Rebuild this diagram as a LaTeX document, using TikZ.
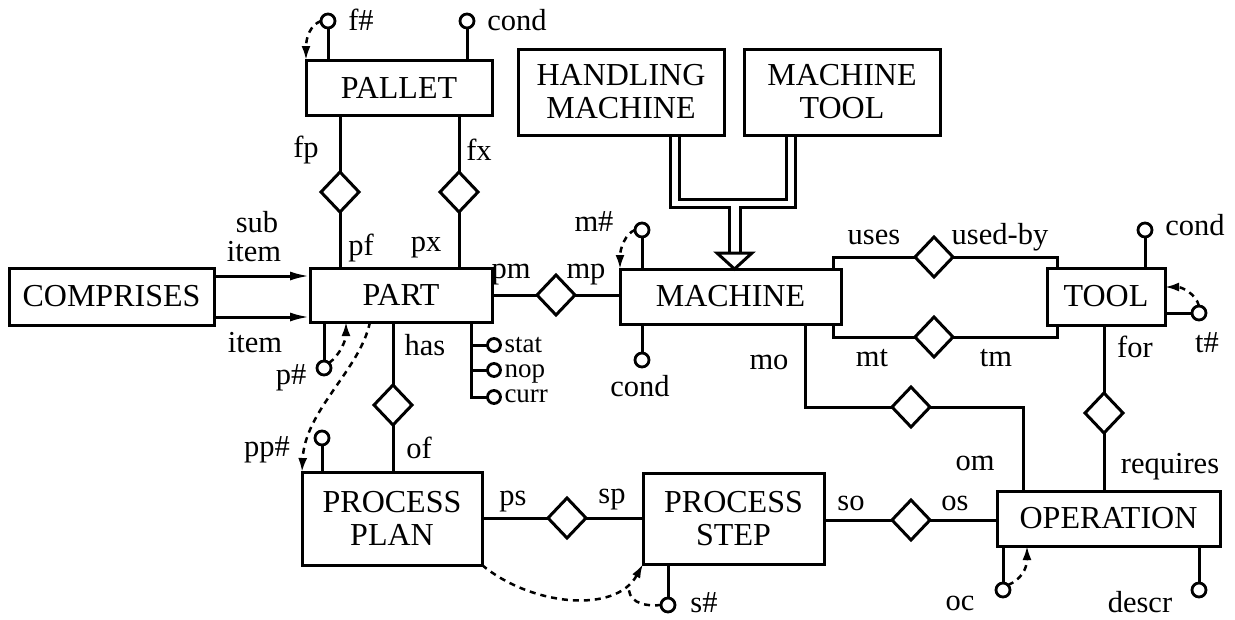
\documentclass[tikz,border=0pt]{standalone}
\usepackage{fontspec}
\setmainfont{Liberation Serif}
\usetikzlibrary{shapes.geometric,arrows.meta}
\begin{document}
\begin{tikzpicture}[x=1pt,y=-1pt, line width=3pt,
 ent/.style={draw, rectangle, inner sep=0pt, outer sep=0pt, align=center, font=\fontsize{32}{33}\selectfont},
 rel/.style={draw, diamond, minimum width=38pt, minimum height=40pt, inner sep=0pt, outer sep=0pt},
 att/.style={draw, circle, minimum size=14pt, inner sep=0pt, outer sep=0pt, fill=white, line width=2.8pt},
 lbl/.style={inner sep=0pt, font=\fontsize{30.5}{32}\selectfont},
 slbl/.style={inner sep=0pt, anchor=base west, font=\fontsize{27}{28}\selectfont},
 dsh/.style={dash pattern=on 6pt off 5pt, line width=2.5pt},
 arr/.style={-{Latex[length=14pt,width=9pt]}},
 carr/.style={-{Latex[length=20pt,width=9pt]}},
]
\useasboundingbox (0,0) rectangle (1235,619);

% entities
\node[ent, minimum width=186pt, minimum height=55pt] (pallet) at (399,87.5) {PALLET};
\node[ent, minimum width=182pt, minimum height=54pt] (part) at (401,295) {PART};
\node[ent, minimum width=205pt, minimum height=57pt] (comp) at (111.5,296.5) {COMPRISES};
\node[ent, minimum width=206pt, minimum height=86pt] (hm) at (621,92) {HANDLING\\MACHINE};
\node[ent, minimum width=196pt, minimum height=86pt] (mtl) at (842,92) {MACHINE\\TOOL};
\node[ent, minimum width=221pt, minimum height=55pt] (machine) at (730.5,296.5) {MACHINE};
\node[ent, minimum width=118pt, minimum height=57pt] (tool) at (1106,296.5) {TOOL};
\node[ent, minimum width=180pt, minimum height=93pt] (pp) at (392,518.5) {PROCESS\\PLAN};
\node[ent, minimum width=181pt, minimum height=91pt] (ps) at (733.5,518.5) {PROCESS\\STEP};
\node[ent, minimum width=223pt, minimum height=55pt] (op) at (1108.5,518.5) {OPERATION};

% relationships
\node[rel] (dfp) at (340,192) {};
\node[rel] (dfx) at (459,192) {};
\node[rel] (dpm) at (556,295) {};
\node[rel] (duse) at (934,257) {};
\node[rel] (dmt) at (934,337) {};
\node[rel] (dmo) at (911,407) {};
\node[rel] (dfor) at (1104,413) {};
\node[rel] (dhas) at (393,405) {};
\node[rel] (dps) at (567,518) {};
\node[rel] (dso) at (911,520) {};

% attributes
\node[att] (af) at (328,21) {};
\node[att] (apc) at (467,21) {};
\node[att] (am) at (642,230) {};
\node[att] (amc) at (642,360) {};
\node[att] (atc) at (1145,230) {};
\node[att] (at) at (1199,313) {};
\node[att] (ap) at (324,368) {};
\node[att] (app) at (322,438) {};
\node[att, minimum size=13pt] (astat) at (494,345) {};
\node[att, minimum size=13pt] (anop) at (494,370) {};
\node[att, minimum size=13pt] (acurr) at (494,397) {};
\node[att] (as) at (668,605) {};
\node[att] (aoc) at (1003,590) {};
\node[att] (adescr) at (1199,590) {};

% labels
\node[lbl] at (361,20) {f\#};
\node[lbl] at (517,20) {cond};
\node[lbl] at (306,150) {fp};
\node[lbl] at (479,150) {fx};
\node[lbl] at (361,248) {pf};
\node[lbl] at (426,248) {px};
\node[lbl] at (257,222) {sub};
\node[lbl] at (254,252) {item};
\node[lbl] at (255,343) {item};
\node[lbl] at (511,275) {pm};
\node[lbl] at (586,275) {mp};
\node[lbl] at (594,222) {m\#};
\node[lbl] at (425,345) {has};
\node[lbl] at (419,448) {of};
\node[lbl] at (291,378) {p\#};
\node[lbl] at (267,450) {pp\#};
\node[slbl] at (503,352) {stat};
\node[slbl] at (503,377) {nop};
\node[slbl] at (503,402) {curr};
\node[lbl] at (874,237) {uses};
\node[lbl] at (1000,237) {used-by};
\node[lbl] at (1195,225) {cond};
\node[lbl] at (872,358) {mt};
\node[lbl] at (996,358) {tm};
\node[lbl] at (769,362) {mo};
\node[lbl] at (1135,347) {for};
\node[lbl] at (1207,343) {t\#};
\node[lbl] at (640,386) {cond};
\node[lbl] at (975,463) {om};
\node[lbl] at (1170,467) {requires};
\node[lbl] at (513,502) {ps};
\node[lbl] at (612,500) {sp};
\node[lbl] at (851,503) {so};
\node[lbl] at (955,503) {os};
\node[lbl] at (704,603) {s\#};
\node[lbl] at (960,603) {oc};
\node[lbl] at (1140,602) {descr};

% attribute lines
\draw (af) -- (af |- pallet.north);
\draw (apc) -- (apc |- pallet.north);
\draw (am) -- (am |- machine.north);
\draw (amc) -- (amc |- machine.south);
\draw (atc) -- (atc |- tool.north);
\draw (at) -- (at -| tool.east);
\draw (ap) -- (ap |- part.south);
\draw (app) -- (app |- pp.north);
\draw (as) -- (as |- ps.south);
\draw (aoc) -- (aoc |- op.south);
\draw (adescr) -- (adescr |- op.south);
\coordinate (b1) at (471,397);
\draw (b1 |- part.south) -- (b1) -- (acurr);
\draw (astat -| b1) -- (astat);
\draw (anop -| b1) -- (anop);

% relationship lines
\draw (dfp.north) -- (dfp |- pallet.south);
\draw (dfp.south) -- (dfp |- part.north);
\draw (dfx.north) -- (dfx |- pallet.south);
\draw (dfx.south) -- (dfx |- part.north);
\draw (dpm -| part.east) -- (dpm) -- (dpm -| machine.west);
\coordinate (u1) at (833,257); \coordinate (u2) at (1057,257);
\draw (u1 |- machine.north) -- (u1) -- (duse) -- (u2) -- (u2 |- tool.north);
\coordinate (m1) at (833,337); \coordinate (m2) at (1057,337);
\draw (m1 |- machine.south) -- (m1) -- (dmt) -- (m2) -- (m2 |- tool.south);
\coordinate (o1) at (805,407); \coordinate (o2) at (1023,407);
\draw (o1 |- machine.south) -- (o1) -- (dmo) -- (o2) -- (o2 |- op.north);
\draw (dfor.north) -- (dfor |- tool.south);
\draw (dfor.south) -- (dfor |- op.north);
\draw (dhas.north) -- (dhas |- part.south);
\draw (dhas.south) -- (dhas |- pp.north);
\draw (dps -| pp.east) -- (dps) -- (dps -| ps.west);
\draw (dso -| ps.east) -- (dso) -- (dso -| op.west);

% comprises arrows
\coordinate (c1) at (0,276); \coordinate (c2) at (0,317);
\draw[carr] (c1 -| comp.east) -- (c1 -| part.west);
\draw[carr] (c2 -| comp.east) -- (c2 -| part.west);

% ISA
\coordinate (iL1) at (670,207); \coordinate (iL2) at (729,207); \coordinate (iL3) at (729,253);
\draw (hm.south -| iL1) -- (iL1) -- (iL2) -- (iL3);
\coordinate (iR1) at (795,207); \coordinate (iR2) at (740,207); \coordinate (iR3) at (740,253);
\draw (mtl.south -| iR1) -- (iR1) -- (iR2) -- (iR3);
\coordinate (iI1) at (679,199); \coordinate (iI2) at (786,199);
\draw (hm.south -| iI1) -- (iI1) -- (iI2) -- (mtl.south -| iI2);
\coordinate (iA1) at (717,253); \coordinate (iA2) at (752,253); \coordinate (iT) at (734.5,0);
\draw[fill=white] (iA1) -- (iA2) -- (machine.north -| iT) -- cycle;

% dashed key arrows
\draw[dsh, arr] (af.west) .. controls (310,25) and (306,38) .. (pallet.north west);
\draw[dsh, arr] (am.west) .. controls (626,233) and (620,248) .. (machine.north west);
\coordinate (tk) at (0,287);
\draw[dsh, arr] (at.north) .. controls (1196,294) and (1182,287) .. (tk -| tool.east);
\coordinate (pk) at (346,0);
\draw[dsh, arr] (ap.north east) .. controls (340,355) and (346,340) .. (pk |- part.south);
\coordinate (ppk) at (370,0);
\draw[dsh, arr] (ppk |- part.south) .. controls (360,370) and (305,410) .. (pp.north west);
\draw[dsh, arr] (pp.south east) .. controls (530,605) and (615,615) .. (ps.south west);
\draw[dsh] (as.west) .. controls (640,607) and (627,600) .. (629,585);
\coordinate (ok) at (1027,0);
\draw[dsh, arr] (aoc.north east) .. controls (1020,580) and (1027,570) .. (ok |- op.south);
\end{tikzpicture}
\end{document}
